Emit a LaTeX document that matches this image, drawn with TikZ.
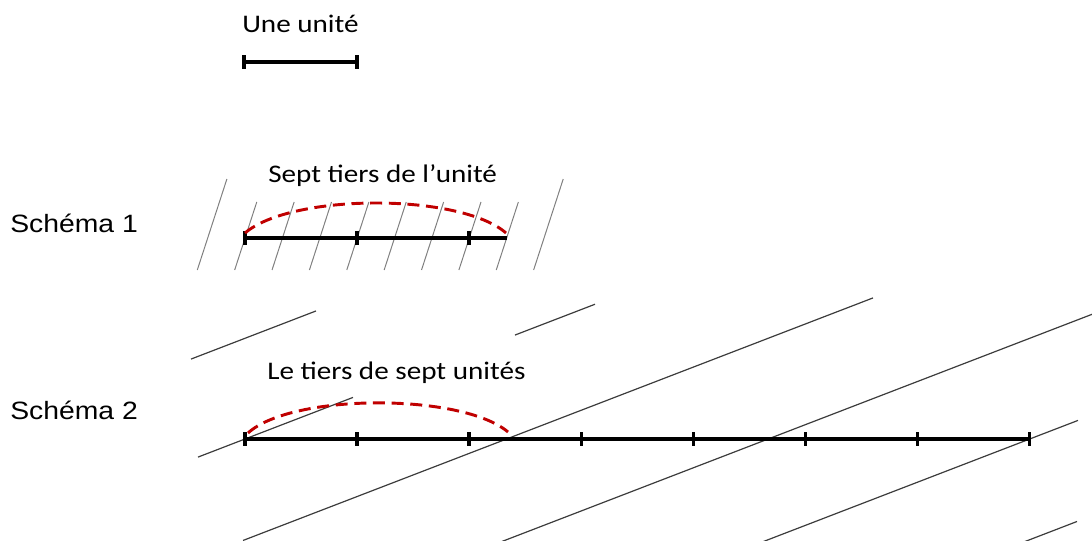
\documentclass[tikz,border=0pt]{standalone}
\usepackage{fontspec}
\setmainfont{Carlito}
\newfontfamily\arialf{Liberation Sans}
\usepackage{graphicx}
\definecolor{arcred}{RGB}{192,0,0}
\definecolor{lightgrid}{RGB}{128,128,128}
\definecolor{darkgrid}{RGB}{60,60,60}
\begin{document}
\begin{tikzpicture}[x=0.75pt,y=-0.75pt,
  axisline/.style={line width=3pt},
  tickmark/.style={line width=2.6pt},
  arcline/.style={draw=arcred, line width=2.2pt, dash pattern=on 9pt off 5pt},
  gridone/.style={draw=lightgrid, line width=0.75pt},
  gridtwo/.style={draw=darkgrid, line width=0.9pt},
  caption/.style={anchor=base west, inner sep=0pt, font=\fontsize{19}{22}\selectfont},
  schemalabel/.style={anchor=base west, inner sep=0pt, font=\arialf\fontsize{18.8}{22}\selectfont}]
\useasboundingbox (0,0) rectangle (1092,541);
\clip (0,0) rectangle (1092,541);

% ---------- Une unité ----------
\node[caption] (unitlabel) at (242,33) {\scalebox{1.15}[1]{Une unité}};
\coordinate (u0) at (244,62.5);
\coordinate (u1) at (357,62.5);
\draw[axisline] (u0) -- (u1);
\foreach \p in {u0,u1} \draw[tickmark] (\p) ++(0,-7) -- ++(0,14);

% ---------- Schéma 1 ----------
\node[schemalabel] (schemaone) at (10,233) {\scalebox{1.13}[1]{Schéma 1}};
\node[caption] (labelone) at (268,183) {\scalebox{1.15}[1]{Sept tiers de l’unité}};
% parallel lines (one third of the unit apart)
\foreach \k in {1,...,8}{
  \pgfmathsetmacro{\xc}{207.7+\k*37.37}
  \draw[gridone] ({\xc-10.4},270) -- ({\xc+11.7},202);
}
\foreach \k in {0,9}{
  \pgfmathsetmacro{\xc}{207.7+\k*37.37}
  \draw[gridone] ({\xc-10.4},270) -- ({\xc+19.2},179);
}
\coordinate (a0) at (245,238);
\coordinate (a3) at (357.1,238);
\coordinate (a6) at (469.2,238);
\coordinate (a7) at (506.6,238);
\draw[axisline] (a0) -- (a7);
\foreach \p in {a0,a3,a6} \draw[tickmark] (\p) ++(0,-7) -- ++(0,14);
\coordinate (arconestart) at (245,233);
\coordinate (arconeend) at (506,233);
\draw[arcline] (arconestart) .. controls (292,193) and (460,193) .. (arconeend);

% ---------- Schéma 2 ----------
\node[schemalabel] (schematwo) at (10,420) {\scalebox{1.13}[1]{Schéma 2}};
\node[caption] (labeltwo) at (267,380) {\scalebox{1.15}[1]{Le tiers de sept unités}};
% parallel lines (seven thirds of the unit apart)
\foreach \k/\xa/\xb in {-1/191/316, 0/198/353, 0/515/595, 1/243/873, 2/500/1100, 3/763/1078, 4/1022/1077}{
  \pgfmathsetmacro{\xk}{245+\k*261.57}
  \draw[gridtwo] (\xa,{439-0.385*(\xa-\xk)}) -- (\xb,{439-0.385*(\xb-\xk)});
}
\foreach \i in {0,...,7}{
  \coordinate (b\i) at ({245+\i*112.1},439);
}
\draw[axisline] (b0) -- (b7);
\foreach \i in {0,...,7} \draw[tickmark] (b\i) ++(0,-7) -- ++(0,14);
\coordinate (arctwostart) at (248,433);
\coordinate (arctwoend) at (508,432);
\draw[arcline] (arctwostart) .. controls (292,393) and (462,393) .. (arctwoend);
\end{tikzpicture}
\end{document}
